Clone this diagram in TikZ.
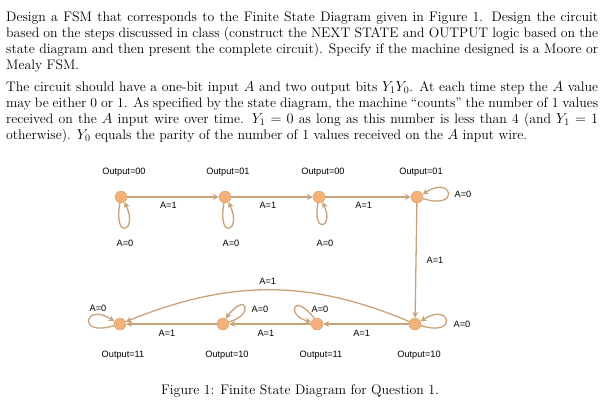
\documentclass[tikz,border=0pt]{standalone}
\usepackage{fontspec}
\newfontfamily\labfont{Liberation Sans}
\usetikzlibrary{arrows.meta}
\definecolor{edgec}{HTML}{C9A27A}
\definecolor{nodec}{HTML}{F4B27A}
\begin{document}
\begin{tikzpicture}[x=1pt,y=-1pt,
  st/.style={circle,fill=nodec,draw=nodec!85!black,line width=0.3pt,minimum size=12pt,inner sep=0pt},
  lab/.style={font=\labfont\fontsize{9.2}{10}\selectfont,inner sep=0pt},
  tr/.style={draw=edgec,line width=1.3pt,-{Stealth[length=6pt,width=6pt]}},
  para/.style={anchor=north west,inner sep=0pt,text width=592pt,align=justify,font=\fontsize{13.8}{16}\selectfont}]
\useasboundingbox (0,0) rectangle (610,407);
\node[para] (p1) at (6,12) {Design a FSM that corresponds to the Finite State Diagram given in Figure 1. Design the circuit\linebreak based on the steps discussed in class (construct the NEXT STATE and OUTPUT logic based on the\linebreak state diagram and then present the complete circuit). Specify if the machine designed is a Moore or\linebreak Mealy FSM.};
\node[para] (p2) at (6,81) {The circuit should have a one-bit input $A$ and two output bits $Y_1Y_0$. At each time step the $A$ value\linebreak may be either 0 or 1. As specified by the state diagram, the machine ``counts'' the number of 1 values\linebreak received on the $A$ input wire over time. $Y_1=0$ as long as this number is less than 4 (and $Y_1=1$\linebreak otherwise). $Y_0$ equals the parity of the number of 1 values received on the $A$ input wire.};
\node[font=\fontsize{13.8}{16}\selectfont,inner sep=0pt] (cap) at (300,391) {Figure 1: Finite State Diagram for Question 1.};
% states
\node[st] (a) at (121,197) {};
\node[st] (b) at (225,197) {};
\node[st] (c) at (319,197) {};
\node[st] (d) at (417,197) {};
\node[st] (e) at (415,324) {};
\node[st] (f) at (317,324) {};
\node[st] (g) at (223,324) {};
\node[st] (h) at (120,324) {};
% outputs
\node[lab] (oa) at (124,172) {Output=00};
\node[lab] (ob) at (228,172) {Output=01};
\node[lab] (oc) at (323,172) {Output=00};
\node[lab] (od) at (421,172) {Output=01};
\node[lab] (oh) at (123,355) {Output=11};
\node[lab] (og) at (227,355) {Output=10};
\node[lab] (of) at (321,355) {Output=11};
\node[lab] (oe) at (419,355) {Output=10};
% transitions
\draw[tr] (a) -- node[lab,pos=0.45,yshift=-8pt]{A=1} (b);
\draw[tr] (b) -- node[lab,pos=0.45,yshift=-8pt]{A=1} (c);
\draw[tr] (c) -- node[lab,pos=0.45,yshift=-8pt]{A=1} (d);
\draw[tr] (d) -- node[lab,right=10pt]{A=1} (e);
\draw[tr] (e) -- node[lab,pos=0.55,yshift=-9pt]{A=1} (f);
\draw[tr] (f) -- node[lab,pos=0.55,yshift=-9pt]{A=1} (g);
\draw[tr] (g) -- node[lab,pos=0.55,yshift=-9pt]{A=1} (h);
\draw[tr] (e) to[out=157,in=22] node[lab,pos=0.5,yshift=9pt]{A=1} (h);
% loops
\draw[tr] (a.-100) .. controls +(-7,38) and +(14,30) .. (a.-55);
\node[lab] (la) at (125,243) {A=0};
\draw[tr] (b.-100) .. controls +(-7,38) and +(14,30) .. (b.-55);
\node[lab] (lb) at (231,243) {A=0};
\draw[tr] (c.-100) .. controls +(-6,32) and +(12,26) .. (c.-55);
\node[lab] (lc) at (325,243) {A=0};
\draw[tr] (d.-15) .. controls +(38,12) and +(30,-20) .. (d.25);
\node[lab] (ld) at (463,194) {A=0};
\draw[tr] (e.-15) .. controls +(38,12) and +(30,-20) .. (e.25);
\node[lab] (le) at (462,324) {A=0};
\draw[tr] (h.195) .. controls +(-38,12) and +(-30,-20) .. (h.155);
\node[lab] (lh) at (98,308) {A=0};
\draw[tr] (g.20) .. controls +(25,-6) and +(22,-28) .. (g.65);
\node[lab] (lg) at (260,309) {A=0};
\draw[tr] (f.115) .. controls +(-22,-28) and +(-25,-6) .. (f.160);
\node[lab] (lf) at (320,309) {A=0};
\end{tikzpicture}
\end{document}
